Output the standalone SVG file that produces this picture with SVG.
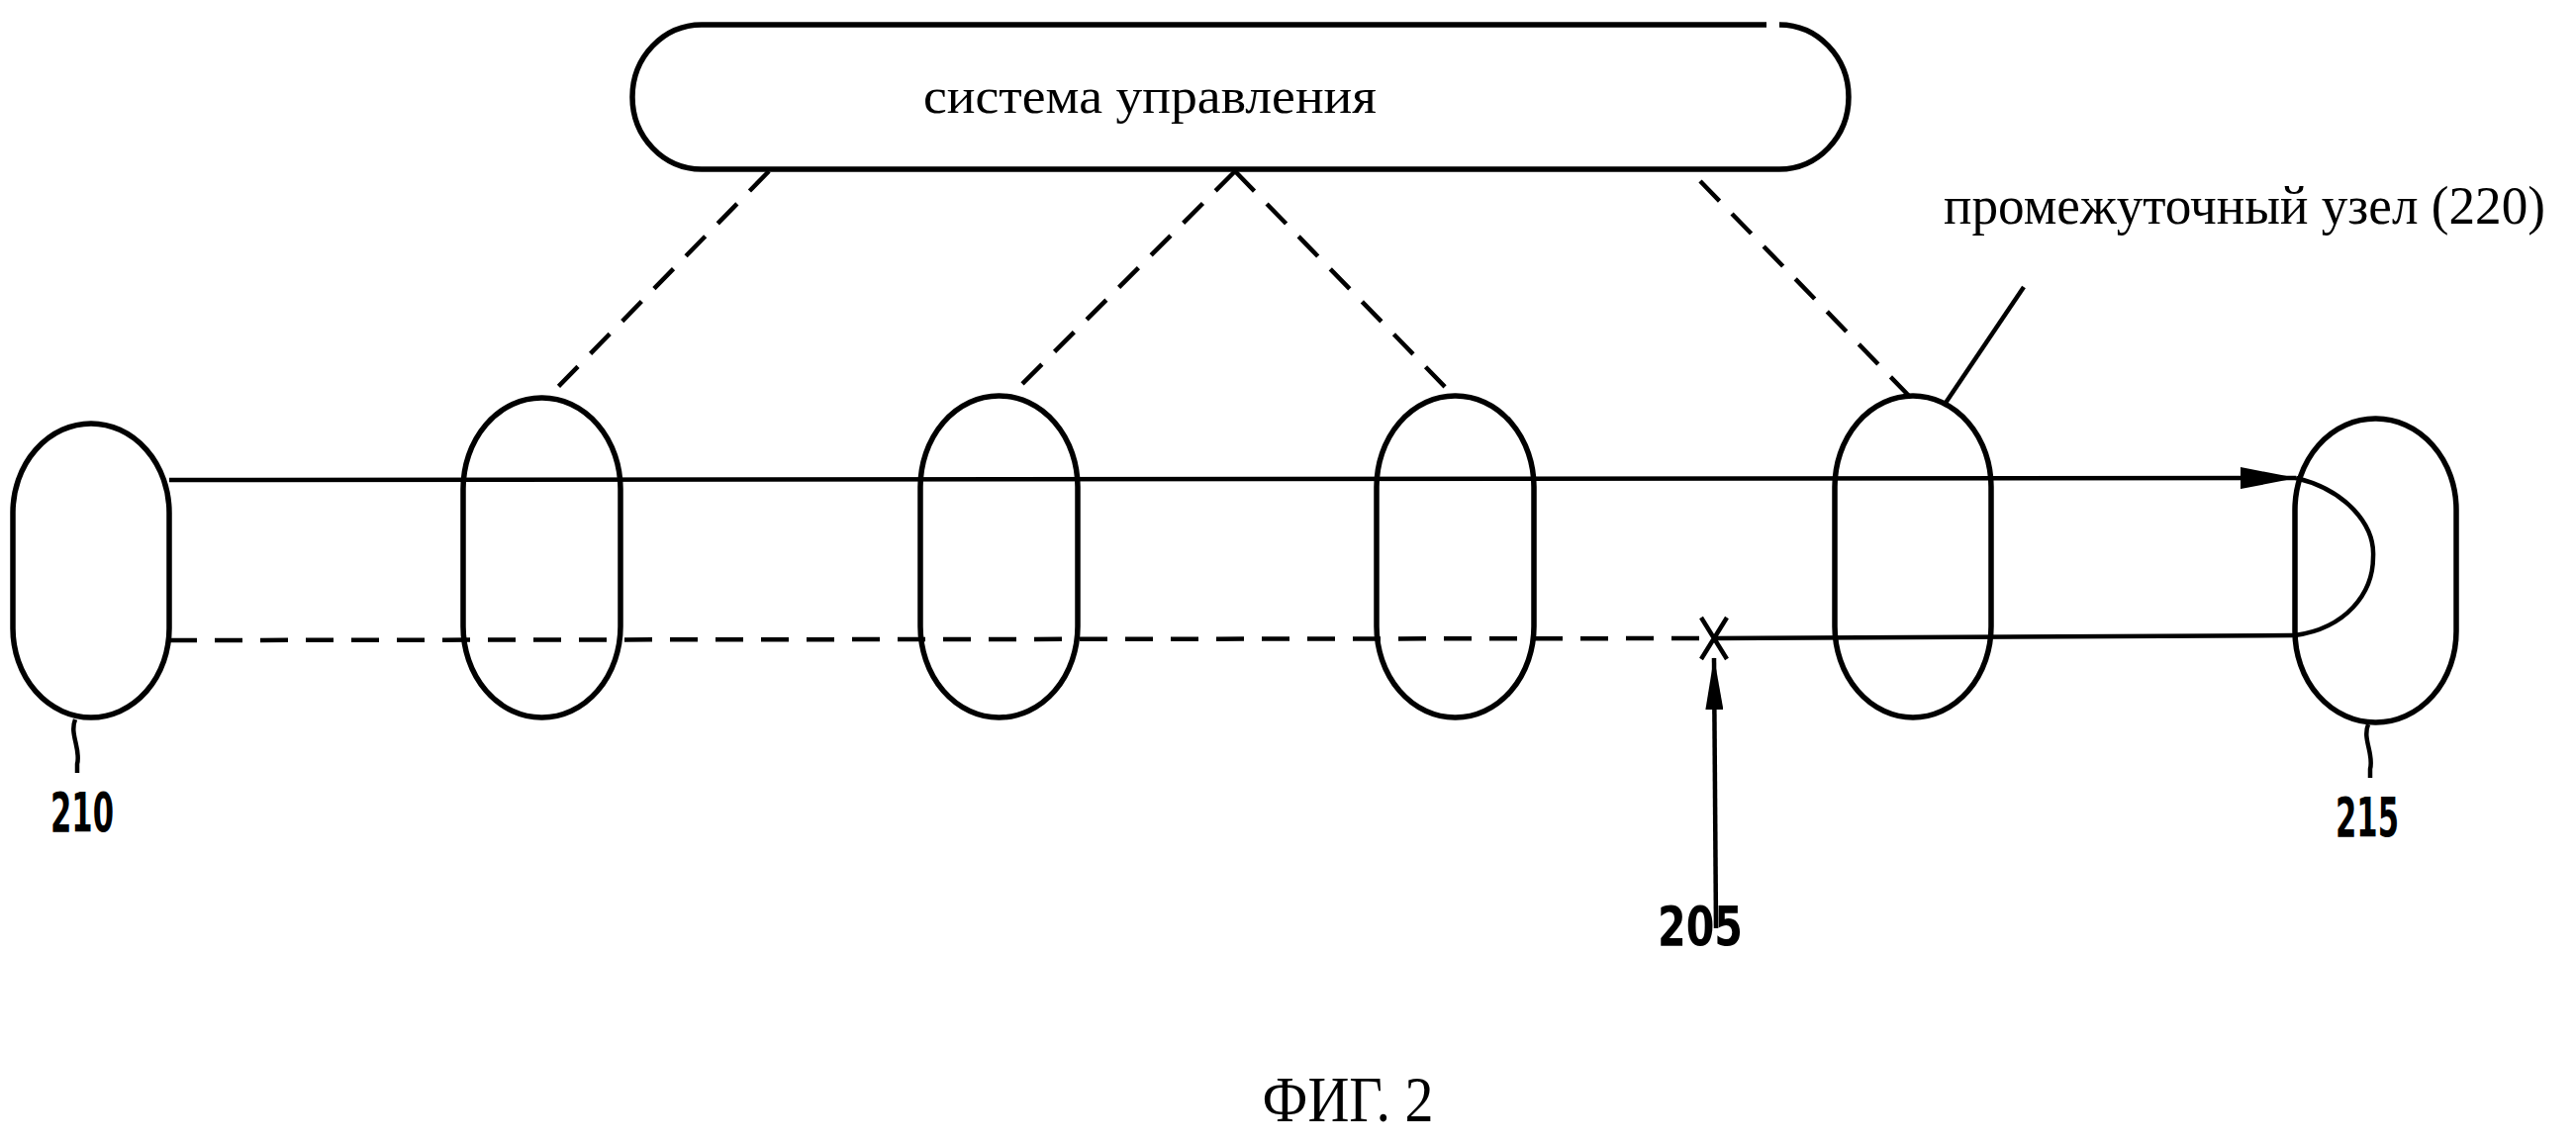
<svg xmlns="http://www.w3.org/2000/svg" width="2603" height="1157" viewBox="0 0 2603 1157">
<style>
.shape{fill:none;stroke:#000;stroke-width:5.5}
.line{fill:none;stroke:#000;stroke-width:4.5}
.dash{fill:none;stroke:#000;stroke-width:4.5;stroke-dasharray:28 18}
.ru{font-family:"Liberation Serif","Times New Roman",serif;fill:#000}
.num{font-family:"DejaVu Sans Condensed","DejaVu Sans",sans-serif;font-weight:bold;fill:#000}
</style>
<defs>
<marker id="arrH" markerWidth="57" markerHeight="22" refX="56" refY="11" orient="auto" markerUnits="userSpaceOnUse" viewBox="0 0 57 22">
<path d="M0,0 L57,11 L0,22 z" fill="#000"/>
</marker>
<marker id="arrV" markerWidth="53" markerHeight="18" refX="52" refY="9" orient="auto" markerUnits="userSpaceOnUse" viewBox="0 0 53 18">
<path d="M0,0 L53,9 L0,18 z" fill="#000"/>
</marker>
</defs>
<rect width="2603" height="1157" fill="#fff"/>
<g id="control-system">
<path class="shape" d="M1785,25 L709,25 A70,73 0 0 0 639,98 A70,73 0 0 0 709,171 L1798,171 A70,73 0 0 0 1868,98 A70,73 0 0 0 1798,25"/>
<text class="ru" x="1162" y="114" font-size="50" text-anchor="middle" textLength="458" lengthAdjust="spacingAndGlyphs">система управления</text>
</g>
<g id="node-210">
<rect class="shape" x="13" y="428" width="158" height="297" rx="79" ry="90"/>
</g>
<g id="node-a">
<rect class="shape" x="468" y="402" width="159" height="323" rx="79" ry="92"/>
</g>
<g id="node-b">
<rect class="shape" x="930" y="400" width="159" height="325" rx="79" ry="92"/>
</g>
<g id="node-c">
<rect class="shape" x="1391" y="400" width="159" height="325" rx="79" ry="92"/>
</g>
<g id="node-220">
<rect class="shape" x="1854" y="400" width="158" height="325" rx="79" ry="92"/>
</g>
<g id="node-215">
<rect class="shape" x="2319" y="423" width="163" height="307" rx="81" ry="92"/>
</g>
<g id="connectors">
<line class="dash" x1="777" y1="173" x2="553" y2="402"/>
<line class="dash" x1="1248" y1="173" x2="1021" y2="400"/>
<line class="dash" x1="1248" y1="173" x2="1469" y2="400"/>
<line class="dash" x1="1718" y1="183" x2="1929" y2="400"/>
<line class="line" x1="171" y1="485" x2="2320" y2="483" marker-end="url(#arrH)"/>
<path class="line" d="M2320,483 C2370,495 2400,530 2398,563 C2398,600 2370,635 2319,642"/>
<line class="dash" x1="171" y1="647" x2="1732" y2="645"/>
<line class="line" x1="1732" y1="645" x2="2319" y2="642"/>
<path class="line" d="M1719,624 L1745,666 M1745,624 L1719,666"/>
<line class="line" x1="1734" y1="938" x2="1732" y2="665" marker-end="url(#arrV)"/>
<line class="line" x1="2045" y1="290" x2="1964" y2="410"/>
<path class="line" d="M76,727 C70,742 82,757 78,772 L78,781"/>
<path class="line" d="M2393,732 C2387,747 2399,762 2395,777 L2395,786"/>
</g>
<g id="labels">
<text class="ru" x="1964" y="226" font-size="55" textLength="608" lengthAdjust="spacingAndGlyphs">промежуточный узел (220)</text>
<text class="num" x="83" y="840" font-size="56" text-anchor="middle" textLength="64" lengthAdjust="spacingAndGlyphs">210</text>
<text class="num" x="2392" y="845" font-size="56" text-anchor="middle" textLength="64" lengthAdjust="spacingAndGlyphs">215</text>
<text class="num" x="1718" y="955" font-size="56" text-anchor="middle" textLength="86" lengthAdjust="spacingAndGlyphs">205</text>
<text class="ru" x="1362" y="1133" font-size="66" text-anchor="middle" textLength="173" lengthAdjust="spacingAndGlyphs">ФИГ. 2</text>
</g>
</svg>
